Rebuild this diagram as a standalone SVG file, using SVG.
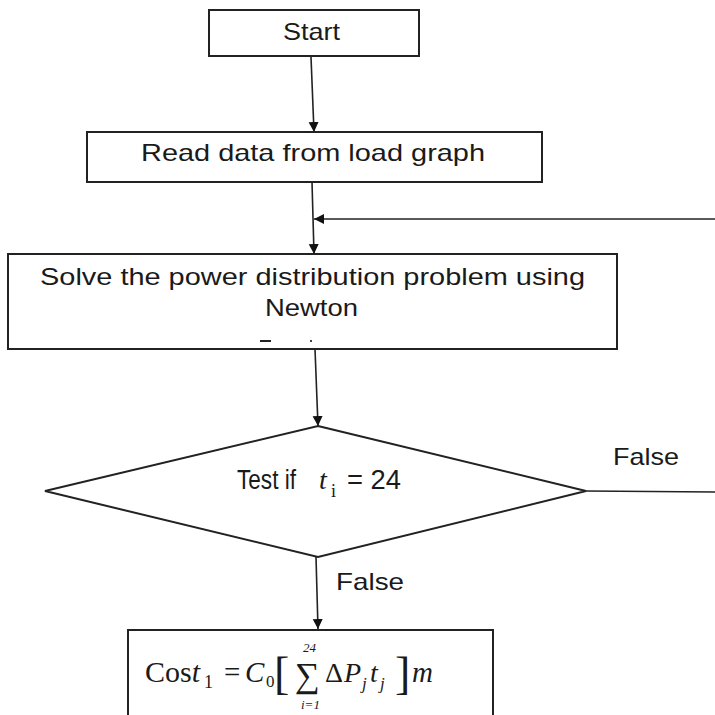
<svg xmlns="http://www.w3.org/2000/svg" width="715" height="715" viewBox="0 0 715 715">
<defs>
<marker id="arr" markerUnits="userSpaceOnUse" markerWidth="10" markerHeight="12" refX="10" refY="5" orient="auto">
<path d="M0,0 L10,5 L0,10 Z" fill="#111"/>
</marker>
<style>
.box{fill:#fff;stroke:#222;stroke-width:2}
.ln{fill:none;stroke:#222;stroke-width:1.6}
.t{font-family:"Liberation Sans",Arial,sans-serif;font-size:24px;fill:#1a1a1a}
.m{font-family:"Liberation Serif","Times New Roman",serif;fill:#1a1a1a}
.i{font-style:italic}
</style>
</defs>
<rect width="715" height="715" fill="#fff"/>
<g id="connectors">
<path class="ln" d="M311,57 L314,132" marker-end="url(#arr)"/>
<path class="ln" d="M312,182 L314,254" marker-end="url(#arr)"/>
<path class="ln" d="M715,219 L314,219" marker-end="url(#arr)"/>
<path class="ln" d="M315,349 L318,426" marker-end="url(#arr)"/>
<path class="ln" d="M586,491 L715,492"/>
<path class="ln" d="M316,557 L318,629" marker-end="url(#arr)"/>
</g>
<g id="start">
<rect class="box" x="209" y="10" width="210" height="46"/>
<text class="t" x="283" y="40" textLength="57" lengthAdjust="spacingAndGlyphs">Start</text>
</g>
<g id="read">
<rect class="box" x="87" y="132" width="455" height="50"/>
<text class="t" x="141" y="161" textLength="344" lengthAdjust="spacingAndGlyphs">Read data from load graph</text>
</g>
<g id="solve">
<rect class="box" x="8" y="254" width="609" height="95"/>
<text class="t" x="40" y="285" textLength="545" lengthAdjust="spacingAndGlyphs">Solve the power distribution problem using</text>
<text class="t" x="265" y="316" textLength="93" lengthAdjust="spacingAndGlyphs">Newton</text>
<rect x="260" y="340" width="11" height="2" fill="#222"/>
<rect x="310" y="340" width="2" height="2" fill="#444"/>
</g>
<g id="test">
<polygon class="box" points="318,426 586,491 318,557 45,491"/>
<text class="t" x="237" y="489" style="font-size:27px" textLength="59" lengthAdjust="spacingAndGlyphs">Test if</text>
<text class="m i" x="319" y="489" font-size="28">t</text>
<text class="m" x="331" y="497" font-size="18">i</text>
<text class="t" x="347" y="489" style="font-size:27px" textLength="54" lengthAdjust="spacingAndGlyphs">= 24</text>
</g>
<g id="labels">
<text class="t" x="613" y="465" textLength="66" lengthAdjust="spacingAndGlyphs">False</text>
<text class="t" x="336" y="590" textLength="68" lengthAdjust="spacingAndGlyphs">False</text>
</g>
<g id="cost">
<rect class="box" x="128" y="630" width="365" height="100"/>
<text class="m" x="145" y="682" font-size="29" textLength="55" lengthAdjust="spacingAndGlyphs">Cos<tspan class="i">t</tspan></text>
<text class="m" x="204" y="688" font-size="18">1</text>
<text class="m" x="224" y="682" font-size="29">=</text>
<text class="m i" x="245" y="682" font-size="29">C</text>
<text class="m" x="266" y="687" font-size="17">0</text>
<text class="m" x="274" y="689" font-size="46" font-weight="300">[</text>
<text class="m" x="295" y="687" font-size="35">∑</text>
<text class="m i" x="303" y="652" font-size="13">24</text>
<text class="m i" x="301" y="709" font-size="13">i=1</text>
<text class="m" x="325" y="682" font-size="28">Δ</text>
<text class="m i" x="344" y="682" font-size="28">P</text>
<text class="m i" x="362" y="689" font-size="17">j</text>
<text class="m i" x="370" y="682" font-size="28">t</text>
<text class="m i" x="380" y="689" font-size="17">j</text>
<text class="m" x="395" y="689" font-size="46" font-weight="300">]</text>
<text class="m i" x="412" y="682" font-size="29">m</text>
</g>
</svg>
